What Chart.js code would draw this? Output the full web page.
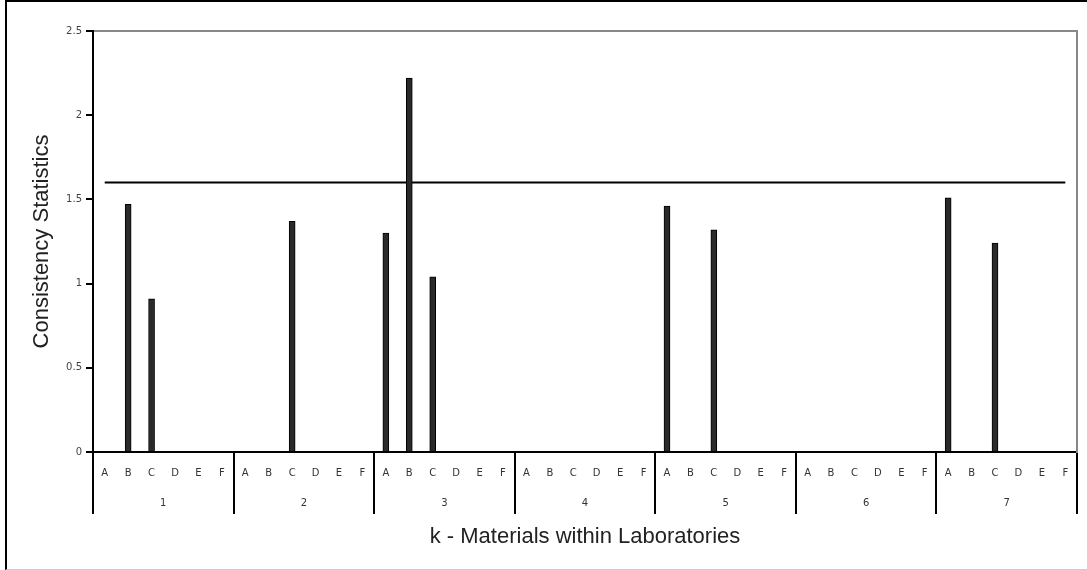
<!DOCTYPE html>
<html>
<head>
<meta charset="utf-8">
<title>Consistency Statistics</title>
<script src="https://cdn.jsdelivr.net/npm/chart.js@4.4.1/dist/chart.umd.min.js"></script>
<style>
  body { margin: 0; background: #fff; }
  #wrap { position: relative; width: 1087px; height: 570px; overflow: hidden; }
  #frame {
    position: absolute; left: 5px; top: 0; width: 1100px; height: 567px;
    border-left: 2px solid #000; border-top: 2px solid #000; border-bottom: 1px solid #ccc;
    pointer-events: none;
  }
</style>
</head>
<body>
<div id="wrap">
  <canvas id="grafica" width="1087" height="570"></canvas>
  <div id="frame"></div>
</div>
<script>
// laboratorios y materiales
var labs = ['1', '2', '3', '4', '5', '6', '7'];
var materiales = ['A', 'B', 'C', 'D', 'E', 'F'];

// valores k por laboratorio (A..F), null = sin barra
var lab1 = [null, 1.47, 0.91, null, null, null];
var lab2 = [null, null, 1.37, null, null, null];
var lab3 = [1.30, 2.22, 1.04, null, null, null];
var lab4 = [null, null, null, null, null, null];
var lab5 = [1.46, null, 1.32, null, null, null];
var lab6 = [null, null, null, null, null, null];
var lab7 = [1.51, null, 1.24, null, null, null];

// linea critica
var kCritico = 1.6;
var yTicks = [0, 0.5, 1, 1.5, 2, 2.5];

var etiquetas = [];
var valores = [];
var todos = [lab1, lab2, lab3, lab4, lab5, lab6, lab7];
for (let i = 0; i < labs.length; i++) {
    for (let j = 0; j < materiales.length; j++) {
        etiquetas.push(materiales[j]);
        valores.push(todos[i][j]);
    }
}
var linea = etiquetas.map(() => kCritico);

var fuenteTick = { family: 'DejaVu Sans', size: 10 };
var fuenteTitulo = { family: 'Liberation Sans', size: 22, lineHeight: 1.2 };

const config = {
    data: {
        labels: etiquetas,
        datasets: [{
            type: 'bar',
            data: valores,
            backgroundColor: '#2a2a2a',
            borderColor: '#000',
            borderWidth: 1,
            barThickness: 6,
            xAxisID: 'x',
            yAxisID: 'y'
        }, {
            type: 'line',
            data: linea,
            borderColor: '#000',
            borderWidth: 2,
            pointRadius: 0,
            xAxisID: 'x',
            yAxisID: 'y'
        }]
    },
    options: {
        responsive: false,
        animation: false,
        layout: { padding: { left: 0, top: 31, right: 10, bottom: 0 } },
        plugins: { legend: { display: false }, tooltip: { enabled: false } },
        scales: {
            x: {
                type: 'category',
                position: 'bottom',
                offset: true,
                grid: {
                    offset: true,
                    drawOnChartArea: false,
                    tickLength: 62,
                    lineWidth: 2,
                    color: (ctx) => (ctx.index === undefined || ctx.index % 6 === 0) ? '#000' : 'rgba(0,0,0,0)'
                },
                border: { display: true, color: '#000', width: 2 },
                ticks: { font: fuenteTick, color: '#333', padding: -47, maxRotation: 0, autoSkip: false },
                afterFit: (s) => { s.height = 30; }
            },
            x2: {
                type: 'category',
                position: 'bottom',
                labels: labs,
                offset: true,
                grid: { display: false, drawTicks: false },
                border: { display: false },
                ticks: { font: fuenteTick, color: '#333', padding: 15, maxRotation: 0 },
                title: {
                    display: true,
                    text: 'k - Materials within Laboratories',
                    font: fuenteTitulo,
                    color: '#222',
                    padding: { top: 0, bottom: 20 }
                },
                afterFit: (s) => { s.height = 88; }
            },
            y: {
                type: 'linear',
                position: 'left',
                min: 0,
                max: 2.5,
                afterBuildTicks: (s) => { s.ticks = yTicks.map(v => ({ value: v })); },
                grid: {
                    drawOnChartArea: true,
                    lineWidth: 2,
                    tickLength: 7,
                    tickColor: '#000',
                    color: (ctx) => (ctx.tick && ctx.tick.value === 2.5) ? '#888' : 'rgba(0,0,0,0)'
                },
                border: { display: true, color: '#000', width: 2 },
                ticks: { font: fuenteTick, color: '#444', padding: 4, callback: (v) => String(v) },
                title: {
                    display: true,
                    text: 'Consistency Statistics',
                    font: fuenteTitulo,
                    color: '#222',
                    padding: { top: 29, bottom: 0 }
                },
                afterFit: (s) => { s.width = 93; }
            },
            y2: {
                type: 'linear',
                position: 'right',
                min: 0,
                max: 2.5,
                grid: { display: false, drawTicks: false },
                ticks: { display: false },
                border: { display: true, color: '#888', width: 2 },
                afterFit: (s) => { s.width = 0; }
            }
        }
    }
};

const myChart = new Chart(document.getElementById('grafica'), config);
</script>
</body>
</html>
